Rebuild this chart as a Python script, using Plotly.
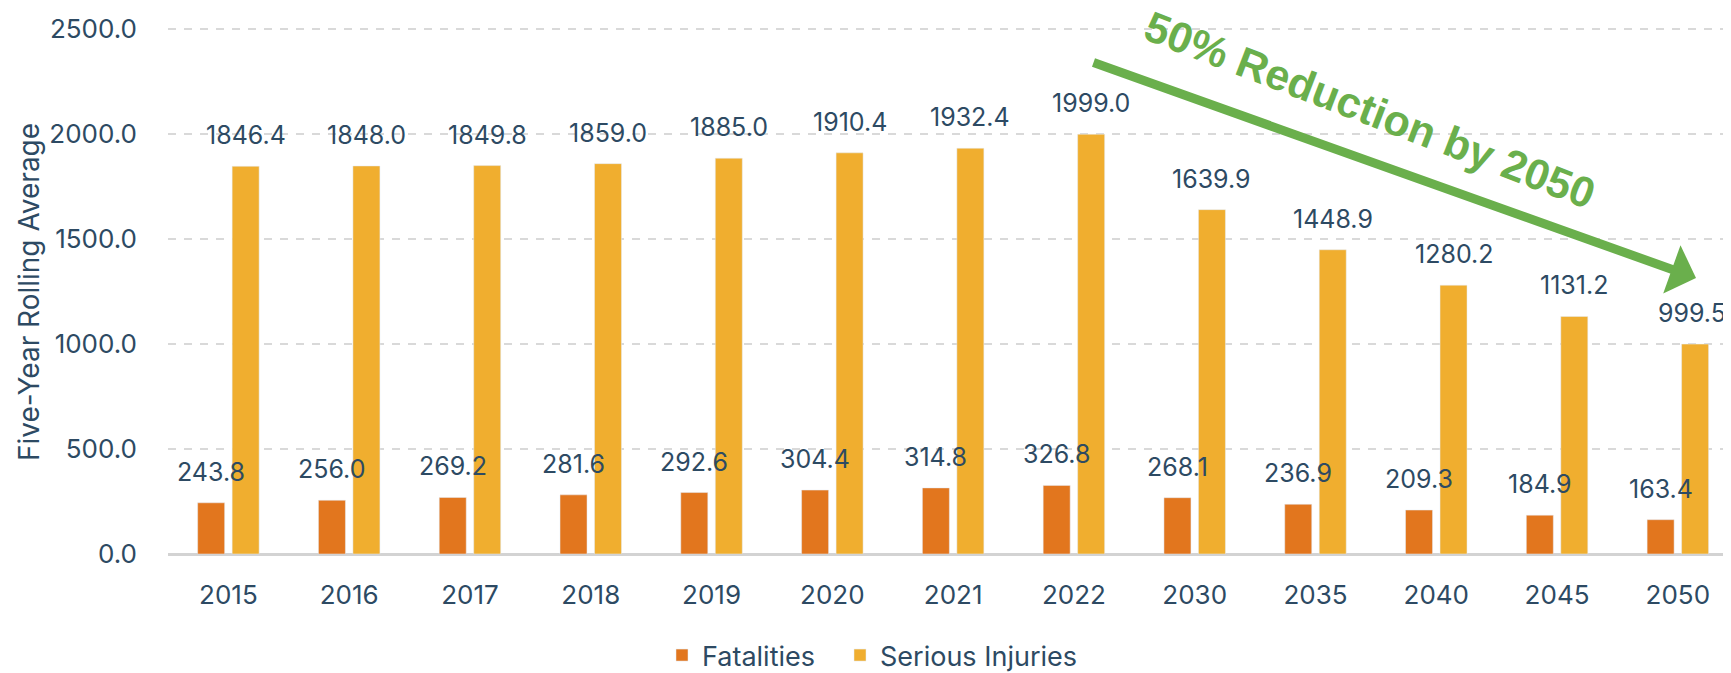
import plotly.graph_objects as go

years = ["2015", "2016", "2017", "2018", "2019", "2020", "2021", "2022",
         "2030", "2035", "2040", "2045", "2050"]
fatalities = [243.8, 256.0, 269.2, 281.6, 292.6, 304.4, 314.8, 326.8,
              268.1, 236.9, 209.3, 184.9, 163.4]
serious_injuries = [1846.4, 1848.0, 1849.8, 1859.0, 1885.0, 1910.4, 1932.4, 1999.0,
                    1639.9, 1448.9, 1280.2, 1131.2, 999.5]
y_ticks = [0, 500, 1000, 1500, 2000, 2500]
y_tick_labels = ["0.0", "500.0", "1000.0", "1500.0", "2000.0", "2500.0"]

# page is 1731x673; the html body has an 8px default margin
OFF = 8
PAGE_W, PAGE_H = 1731, 673
W, H = PAGE_W - OFF, PAGE_H - OFF
PLOT_LEFT, PLOT_RIGHT, PLOT_TOP, PLOT_BOTTOM = 168, 1731, 28, 554   # page px
L = PLOT_LEFT - OFF
R = W - (PLOT_RIGHT - OFF)
T = PLOT_TOP - OFF
B = H - (PLOT_BOTTOM - OFF)
PW = PLOT_RIGHT - PLOT_LEFT
PH = PLOT_BOTTOM - PLOT_TOP

TXT = "#2D4A63"
ORANGE = "#E2761E"
GOLD = "#F0AE2F"
GREEN = "#6AAF4C"
FONT = "Inter"

def px_x(px):
    return (px - PLOT_LEFT) / PW

def px_y(py):
    return (PLOT_BOTTOM - py) / PH

fig = go.Figure()
fig.add_trace(go.Bar(name="Fatalities", x=years, y=fatalities, marker_color=ORANGE,
                     legend="legend"))
fig.add_trace(go.Bar(name="Serious Injuries", x=years, y=serious_injuries, marker_color=GOLD,
                     legend="legend2"))

annotations = []
n = len(years)
for i, (f, s) in enumerate(zip(fatalities, serious_injuries)):
    annotations.append(dict(x=i, y=f, xref="x", yref="y", text=f"{f:.1f}",
                            showarrow=False, xshift=-17.25, yshift=31,
                            yanchor="middle", xanchor="center",
                            font=dict(family=FONT, size=25, color=TXT)))
    last = (i == n - 1)
    annotations.append(dict(x=i, y=s, xref="x", yref="y", text=f"{s:.1f}",
                            showarrow=False, xshift=(17.25 + 33) if last else 17.25, yshift=31,
                            yanchor="middle", xanchor="right" if last else "center",
                            font=dict(family=FONT, size=25, color=TXT)))

# y-axis title
annotations.append(dict(x=px_x(29), y=px_y(292), xref="paper", yref="paper",
                        text="Five-Year Rolling Average", textangle=-90, showarrow=False,
                        xanchor="center", yanchor="middle",
                        font=dict(family=FONT, size=28, color=TXT)))

# arrow
annotations.append(dict(x=px_x(1696), y=px_y(278), xref="paper", yref="paper",
                        ax=1092 - 1696, ay=62 - 278, axref="pixel", ayref="pixel",
                        text="", showarrow=True, arrowhead=1, arrowsize=0.95,
                        arrowwidth=9, arrowcolor=GREEN, standoff=0, startstandoff=0))
# arrow text
annotations.append(dict(x=px_x(1370), y=px_y(110), xref="paper", yref="paper",
                        text="50% Reduction by 2050", textangle=21, showarrow=False,
                        xanchor="center", yanchor="middle",
                        font=dict(family="Liberation Sans", size=43, color=GREEN, weight="bold")))

legend_style = dict(orientation="h", xref="paper", yref="paper",
                    y=px_y(631), xanchor="left", yanchor="top",
                    font=dict(family=FONT, size=27, color=TXT),
                    bgcolor="rgba(0,0,0,0)")

fig.update_layout(
    width=W, height=H,
    margin=dict(l=L, r=R, t=T, b=B, pad=0, autoexpand=False),
    paper_bgcolor="white", plot_bgcolor="white",
    barmode="group", bargap=0.429, bargroupgap=0.217,
    showlegend=True,
    legend=dict(x=px_x(662), **legend_style),
    legend2=dict(x=px_x(840), **legend_style),
    annotations=annotations,
    font=dict(family=FONT, color=TXT),
)
fig.update_xaxes(type="category", range=[-0.5, 12.44], showgrid=False,
                 showline=False, ticks="", ticklabelstandoff=23,
                 tickfont=dict(family=FONT, size=26, color=TXT))
fig.update_yaxes(range=[0, 2505], tickvals=y_ticks, ticktext=y_tick_labels,
                 showgrid=True, gridcolor="#D9D9D9", gridwidth=2, griddash="8px,8px",
                 zeroline=True, zerolinecolor="#D3D3D3", zerolinewidth=3,
                 showline=False, ticks="", ticklabelstandoff=30,
                 tickfont=dict(family=FONT, size=26, color=TXT))

fig.write_html("out.html")
